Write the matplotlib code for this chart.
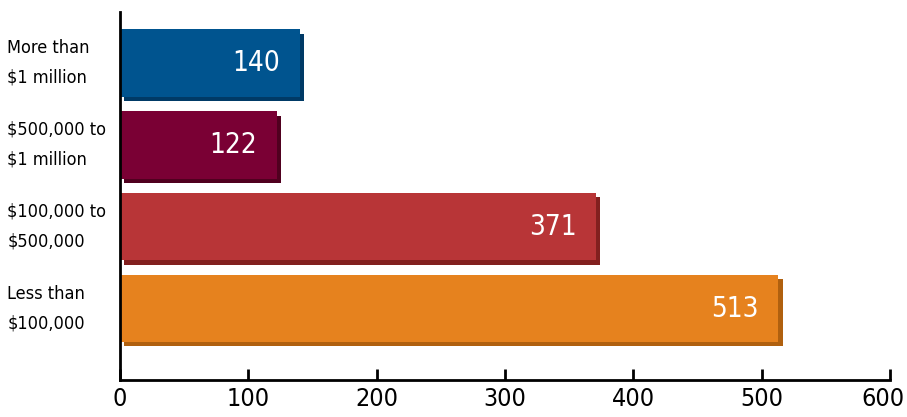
import matplotlib
matplotlib.use('Agg')
from matplotlib import pyplot as plt
from matplotlib import font_manager
from matplotlib.transforms import ScaledTranslation
import matplotlib.patheffects as pe

categories = ['More than\n$1 million', '$500,000 to\n$1 million',
              '$100,000 to\n$500,000', 'Less than\n$100,000']
values = [140, 122, 371, 513]
colors = ['#00548f', '#7a0034', '#b83537', '#e6821e']
shadows = ['#003a66', '#50001f', '#82201f', '#b0600f']
xticks = [0, 100, 200, 300, 400, 500, 600]

# pick a narrow font if one is installed
names = {f.name for f in font_manager.fontManager.ttflist}
if 'Liberation Sans Narrow' in names:
    fam = 'Liberation Sans Narrow'
    stretch = 'normal'
else:
    fam = 'DejaVu Sans'
    stretch = 'condensed'

fig = plt.figure(figsize=(9.07, 4.17), dpi=100)
ax = fig.add_axes([0.1323, 0.0887, 0.849, 0.882])

for i in range(len(values)):
    ax.barh(i, values[i], height=0.82, color=colors[i],
            path_effects=[pe.SimplePatchShadow(offset=(3, -3), shadow_rgbFace=shadows[i], alpha=1.0),
                          pe.Normal()])
    ax.text(values[i] - 34, i, str(values[i]), color='white', ha='center', va='center',
            fontsize=20, family=fam, fontstretch=stretch)

ax.set_xlim(0, 600)
ax.set_ylim(3.87, -0.62)
ax.set_xticks(xticks)
ax.set_xticklabels([str(t) for t in xticks], family=fam, fontstretch=stretch, fontsize=18)
ax.set_yticks(range(len(categories)))
ax.set_yticklabels(categories, family=fam, fontstretch=stretch, fontsize=13,
                   ha='left', va='center', linespacing=1.85)
ax.tick_params(axis='y', length=0, pad=81)
ax.tick_params(axis='x', direction='in', length=8, width=2, pad=5)

# keep the last tick label inside the figure
last = ax.get_xticklabels()[-1]
last.set_transform(last.get_transform() + ScaledTranslation(-5 / 72, 0, fig.dpi_scale_trans))

for s in ['top', 'right']:
    ax.spines[s].set_visible(False)
ax.spines['left'].set_linewidth(2)
ax.spines['bottom'].set_linewidth(2)

fig.savefig('out.png', dpi=100)
